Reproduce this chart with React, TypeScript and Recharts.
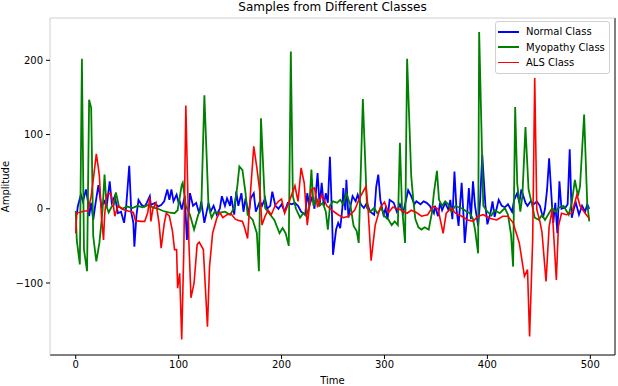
import { LineChart, Line, XAxis, YAxis, Legend, ReferenceLine } from "recharts";

// [time, amplitude] pairs
const normalClass: [number, number][] = [
  [0, -4], [1, -8], [2, 3], [5, 19], [7, 10], [10, 26], [12, 8], [13, -10], [15, 8], [17, -15],
  [19, 5], [22, 32], [25, 3], [28, 10], [30, 2], [33, 37], [35, 8], [38, 17], [41, -6], [44, -4],
  [47, -19], [49, 3], [52, 58], [54, -5], [56, -19], [57, -51], [59, -9], [61, 12], [64, 5], [67, 3],
  [69, 8], [72, 17], [73, 5], [77, 8], [80, 3], [83, 5], [86, 10], [89, 26], [91, 12], [93, 26],
  [95, 10], [98, 19], [100, 8], [101, 10], [103, -1], [106, 17], [108, -42], [111, 21], [114, 4], [117, 8],
  [120, -6], [122, 10], [125, -19], [129, 8], [131, -4], [134, 4], [137, -8], [140, 0], [142, 17], [145, 4],
  [147, 14], [150, 4], [151, 17], [154, -8], [156, 23], [158, 4], [161, 21], [163, -4], [165, 14], [168, -8],
  [170, 14], [173, 21], [175, -4], [179, 10], [181, 4], [184, 14], [186, 0], [189, 4], [191, 23], [194, 4],
  [197, 0], [200, 6], [203, -4], [206, 8], [210, 6], [213, 8], [216, 4], [219, -4], [223, -8], [225, 21],
  [227, 4], [230, 17], [232, 0], [235, 48], [237, 4], [239, 35], [241, 4], [243, 21], [245, 8], [247, 70],
  [249, -8], [250, -62], [253, -28], [255, -19], [257, -26], [259, 0], [260, 28], [262, -2], [263, 39], [265, -12],
  [267, 4], [269, 17], [272, 10], [274, 19], [277, 6], [280, 1], [283, 8], [286, -4], [290, -8], [292, 30],
  [294, 46], [296, 12], [299, -8], [301, 0], [303, -14], [305, 12], [309, 8], [312, -4], [315, 6], [318, -6],
  [321, 12], [323, 25], [326, 17], [329, 6], [331, 10], [335, 6], [338, 10], [341, 8], [344, 4], [348, -6],
  [349, 4], [352, -10], [354, 8], [356, -2], [359, 8], [362, -1], [364, 12], [366, -14], [368, 50], [370, -1],
  [372, -23], [375, 35], [377, -14], [378, -46], [380, -14], [382, 28], [384, -14], [386, 37], [388, 4], [391, -23],
  [393, 12], [395, 73], [398, 6], [400, -21], [403, -6], [405, 10], [407, -11], [411, 12], [414, 4], [417, 2],
  [420, 6], [424, -4], [426, 12], [429, 21], [431, 8], [433, 26], [437, 8], [439, 4], [442, 10], [445, 6],
  [448, 10], [451, 4], [454, -12], [456, 0], [458, 26], [460, 68], [463, 0], [464, -19], [466, 8], [468, -33],
  [470, 37], [472, 0], [476, 2], [478, 6], [480, 80], [482, -12], [484, 0], [486, 8], [489, -8], [492, 4],
  [495, -4], [497, 6], [499, 0],
];

const myopathyClass: [number, number][] = [
  [0, -3], [1, -42], [4, -75], [6, 202], [8, -55], [11, -84], [13, 147], [15, 136], [17, -37], [20, -71],
  [23, -46], [26, -3], [28, 46], [30, 3], [32, -5], [35, 3], [37, 5], [39, 22], [42, 3], [45, 0],
  [50, 3], [55, 1], [60, 4], [65, 2], [70, 5], [75, 2], [80, 0], [85, -3], [90, -5], [96, -6],
  [99, -2], [103, 32], [104, 35], [107, 4], [111, -8], [115, -28], [119, -8], [122, 1], [125, 153], [129, 4],
  [132, -12], [135, -4], [138, -6], [145, -4], [150, -8], [154, 1], [157, 30], [159, 57], [162, 52], [165, 21],
  [167, -8], [172, -15], [176, -33], [178, -84], [180, 122], [184, 1], [189, -8], [193, -15], [198, -33], [201, -26],
  [204, -33], [207, -50], [209, 212], [211, 17], [214, 0], [218, -12], [221, -6], [224, -10], [227, 4], [229, 53],
  [231, 4], [234, 14], [237, 4], [240, 8], [243, -4], [245, -28], [247, 4], [250, 10], [254, 8], [257, 12],
  [260, 6], [263, 21], [267, 4], [270, -23], [273, -30], [275, -46], [279, 148], [283, 1], [286, -4], [290, 1],
  [293, -6], [297, 1], [300, -10], [304, -15], [307, -22], [310, -17], [313, -22], [315, 89], [317, 3], [320, -46],
  [322, 202], [326, 44], [328, 12], [330, -14], [333, -25], [336, -28], [339, -25], [343, -28], [346, -6], [348, 21],
  [351, 51], [353, 12], [356, 4], [359, 10], [362, 6], [365, -4], [369, 4], [372, 2], [376, 0], [380, -4],
  [383, -6], [386, -14], [388, -28], [391, -60], [392, 238], [396, 4], [400, -4], [404, -9], [407, -2], [412, -6],
  [417, 1], [420, -8], [423, -35], [425, -78], [427, 137], [429, 34], [432, -4], [434, 17], [437, 110], [440, 26],
  [443, 8], [446, -12], [450, -15], [453, -8], [456, -15], [459, -8], [463, 1], [466, -4], [469, 1], [474, 4],
  [479, -8], [482, 8], [485, 39], [488, 17], [490, 30], [494, 127], [497, 8], [499, -17],
];

const alsClass: [number, number][] = [
  [0, -33], [1, -5], [4, -5], [8, -3], [12, -3], [15, 17], [18, 50], [20, 74], [22, 55], [23, 44],
  [25, -10], [27, -42], [28, -10], [30, 19], [34, 21], [36, 10], [38, -10], [41, 4], [46, -1], [51, -3],
  [56, -5], [58, -16], [63, -17], [67, -17], [70, -5], [72, 15], [73, -17], [75, 0], [78, 8], [81, -20],
  [83, -53], [86, -20], [88, -6], [91, -10], [94, -30], [96, -55], [98, -55], [99, -107], [101, -87], [103, -176],
  [105, -57], [107, 139], [110, -46], [112, -120], [115, -100], [118, -48], [120, -45], [124, -55], [128, -159], [130, -78],
  [133, -33], [137, -13], [140, -5], [143, -12], [147, -8], [151, -7], [155, -14], [159, -16], [162, -17], [164, -25],
  [167, -40], [170, 26], [173, 84], [176, 55], [179, 22], [181, -22], [184, -10], [187, -2], [190, -8], [194, 5],
  [197, 10], [200, 13], [203, -6], [208, 12], [213, 31], [216, 10], [219, 55], [222, 35], [225, -22], [229, 26],
  [232, 28], [235, 2], [239, 19], [244, 4], [250, -3], [255, -8], [260, -12], [265, -10], [271, -2], [276, 15],
  [282, 30], [284, 2], [287, -70], [291, -22], [296, 2], [300, 9], [304, -5], [308, 2], [315, -1], [322, -6],
  [326, -2], [331, -5], [336, -10], [342, -8], [347, 3], [352, 0], [357, -33], [360, -6], [365, 1], [369, -6],
  [375, -10], [381, -15], [386, -17], [391, -10], [396, -8], [403, -13], [409, -15], [415, -10], [420, -10], [425, -19],
  [431, -46], [436, -91], [439, -82], [441, -172], [444, -42], [446, 176], [448, -1], [451, -17], [453, -31], [457, -98],
  [460, -24], [463, -1], [467, -96], [469, -24], [472, -6], [477, -8], [482, -6], [487, 19], [490, 4], [495, -6],
  [499, -13],
];

const seriesNames = ["Normal Class", "Myopathy Class", "ALS Class"];
const seriesColors = ["#0000ff", "#008000", "#ff0000"];
const xTicks = [0, 100, 200, 300, 400, 500];
const yTicks = [-100, 0, 100, 200];

const toRows = (pairs: [number, number][]) => pairs.map(([t, amp]) => ({ t, amp }));

function LegendBox() {
  return (
    <div
      style={{
        border: "1px solid #d0d0d0",
        borderRadius: 3,
        background: "rgba(255,255,255,0.8)",
        padding: "2px 4px 2px 2px",
        fontSize: 10,
        width: 107,
        color: "#000",
      }}
    >
      {seriesNames.map((name, i) => (
        <div key={name} style={{ display: "flex", alignItems: "center", height: 15.5 }}>
          <span
            style={{
              display: "inline-block",
              width: 21,
              borderTop: `${i === 2 ? 1.5 : 2}px solid ${seriesColors[i]}`,
              marginRight: 7,
            }}
          />
          <span>{name}</span>
        </div>
      ))}
    </div>
  );
}

export default function App() {
  return (
    <div
      style={{
        position: "absolute",
        left: 0,
        top: 0,
        width: 618,
        height: 386,
        background: "#fff",
        fontFamily: "DejaVu Sans",
      }}
    >
      <div
        style={{
          position: "absolute",
          left: 50,
          width: 565,
          top: 0,
          textAlign: "center",
          fontSize: 12,
          lineHeight: "14px",
          color: "#000",
        }}
      >
        Samples from Different Classes
      </div>
      <LineChart width={618} height={386} margin={{ top: 18, right: 3, bottom: 1, left: 0 }}>
        <XAxis
          type="number"
          dataKey="t"
          domain={[-25, 524]}
          ticks={xTicks}
          allowDataOverflow
          height={30}
          tickSize={4}
          tickMargin={2}
          stroke="#000"
          tick={{ fontSize: 10, fill: "#000" }}
          label={{ value: "Time", position: "insideBottom", offset: 1, fontSize: 10, fill: "#000" }}
        />
        <YAxis
          type="number"
          domain={[-197, 257]}
          ticks={yTicks}
          allowDataOverflow
          width={50}
          tickSize={4}
          tickMargin={3}
          axisLine={{ stroke: "#d0d0d0" }}
          tickLine={{ stroke: "#000" }}
          tick={{ fontSize: 10, fill: "#000" }}
          tickFormatter={(v: number) => String(v).replace("-", "\u2212")}
          label={{
            value: "Amplitude",
            angle: -90,
            position: "insideLeft",
            offset: 5,
            fontSize: 10,
            fill: "#000",
            style: { textAnchor: "middle" },
          }}
        />
        <ReferenceLine x={524} stroke="#000" />
        <ReferenceLine y={257} stroke="#d0d0d0" />
        <Line
          data={toRows(normalClass)}
          dataKey="amp"
          name={seriesNames[0]}
          type="linear"
          stroke={seriesColors[0]}
          strokeWidth={1.8}
          dot={false}
          isAnimationActive={false}
        />
        <Line
          data={toRows(myopathyClass)}
          dataKey="amp"
          name={seriesNames[1]}
          type="linear"
          stroke={seriesColors[1]}
          strokeWidth={1.8}
          dot={false}
          isAnimationActive={false}
        />
        <Line
          data={toRows(alsClass)}
          dataKey="amp"
          name={seriesNames[2]}
          type="linear"
          stroke={seriesColors[2]}
          strokeWidth={1.6}
          dot={false}
          isAnimationActive={false}
        />
        <Legend
          layout="vertical"
          align="center"
          verticalAlign="middle"
          wrapperStyle={{ top: 21, left: 495, width: 115 }}
          content={<LegendBox />}
        />
      </LineChart>
    </div>
  );
}
